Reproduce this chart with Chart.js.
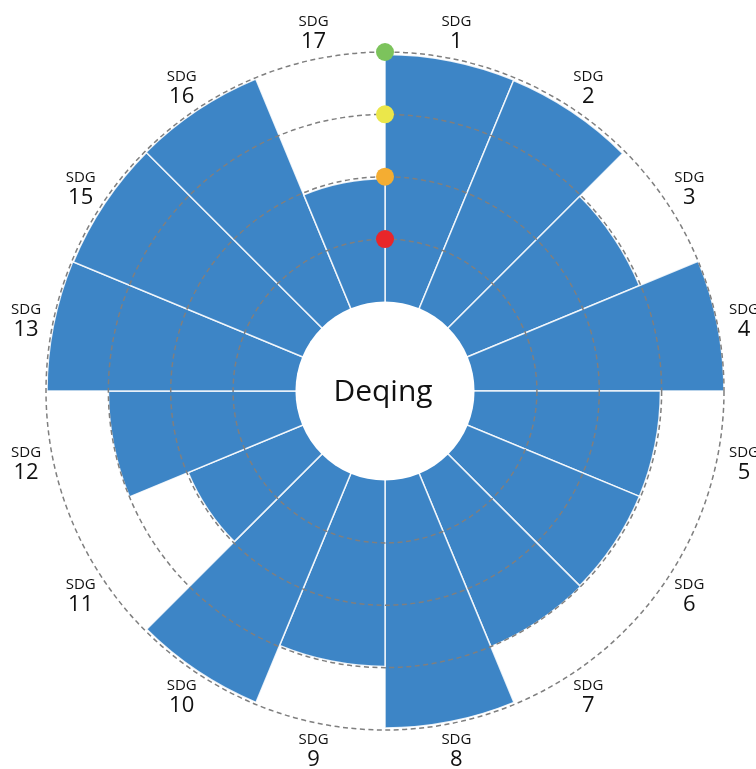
<!DOCTYPE html>
<html><head><meta charset="utf-8">
<script src="https://cdn.jsdelivr.net/npm/chart.js@4.4.1/dist/chart.umd.min.js"></script>
<style>html,body{margin:0;padding:0;background:#fff}#wrap{width:756px;height:769px;position:relative}</style>
</head><body><div id="wrap"><canvas id="c"></canvas></div>
<script>
const categories = ['1','2','3','4','5','6','7','8','9','10','11','12','13','15','16','17'];
const scores = [99, 98.8, 74.5, 100, 74.5, 74.5, 75, 99.2, 74.5, 99.2, 49.5, 75, 99.6, 99.3, 99.5, 49.2];
const gridTicks = [25, 50, 75, 100];
const thresholdColors = ['#e8262a', '#f4ad32', '#ebe74a', '#7cc35c'];
const centerTitle = 'Deqing';
const scaleMin = -35.9, scaleMax = 100;

const overlay = {
  id: 'overlay',
  afterDraw(chart) {
    const s = chart.scales.r, ctx = chart.ctx;
    const cx = s.xCenter, cy = s.yCenter;
    ctx.save();
    const hr = s.getDistanceFromCenterForValue(0);
    ctx.fillStyle = '#fff';
    ctx.beginPath(); ctx.arc(cx, cy, hr, 0, Math.PI * 2); ctx.fill();
    gridTicks.forEach((v, i) => {
      const p = s.getPointPositionForValue(0, v);
      ctx.fillStyle = thresholdColors[i];
      ctx.beginPath(); ctx.arc(p.x, p.y, 9, 0, Math.PI * 2); ctx.fill();
    });
    ctx.fillStyle = '#111';
    ctx.textAlign = 'center'; ctx.textBaseline = 'middle';
    ctx.font = '30px "Open Sans"';
    ctx.fillText(centerTitle, cx - 2, cy + 1);
    const n = categories.length;
    const labelR = s.drawingArea + 27;
    categories.forEach((c, i) => {
      const a = s.getIndexAngle(i) + Math.PI / n - Math.PI / 2;
      const x = cx + Math.cos(a) * labelR, y = cy + Math.sin(a) * labelR;
      ctx.font = '15px "Open Sans"';
      ctx.fillText('SDG', x, y - 10);
      ctx.font = '22px "Open Sans"';
      ctx.fillText(c, x, y + 10);
    });
    ctx.restore();
  }
};

new Chart(document.getElementById('c'), {
  type: 'polarArea',
  data: {
    labels: categories.map(c => 'SDG ' + c),
    datasets: [{ data: scores, backgroundColor: '#3d85c6', borderColor: 'rgba(255,255,255,0.85)', borderWidth: 1.5 }]
  },
  options: {
    responsive: true, maintainAspectRatio: false, animation: false,
    layout: { padding: { left: 46, right: 32, top: 52, bottom: 39 } },
    plugins: { legend: { display: false }, tooltip: { enabled: false } },
    scales: {
      r: {
        min: scaleMin, max: scaleMax,
        ticks: { display: false, z: 1 },
        afterBuildTicks: (sc) => { sc.ticks = [0].concat(gridTicks).map(v => ({ value: v })); },
        grid: { z: 1, circular: true, color: (c) => (c.tick && c.tick.value > 0) ? '#7f7f7f' : 'rgba(0,0,0,0)', lineWidth: 1.5 },
        border: { dash: [5, 3.5] },
        angleLines: { display: false },
        pointLabels: { display: false }
      }
    }
  },
  plugins: [overlay]
});
</script>
</body></html>
